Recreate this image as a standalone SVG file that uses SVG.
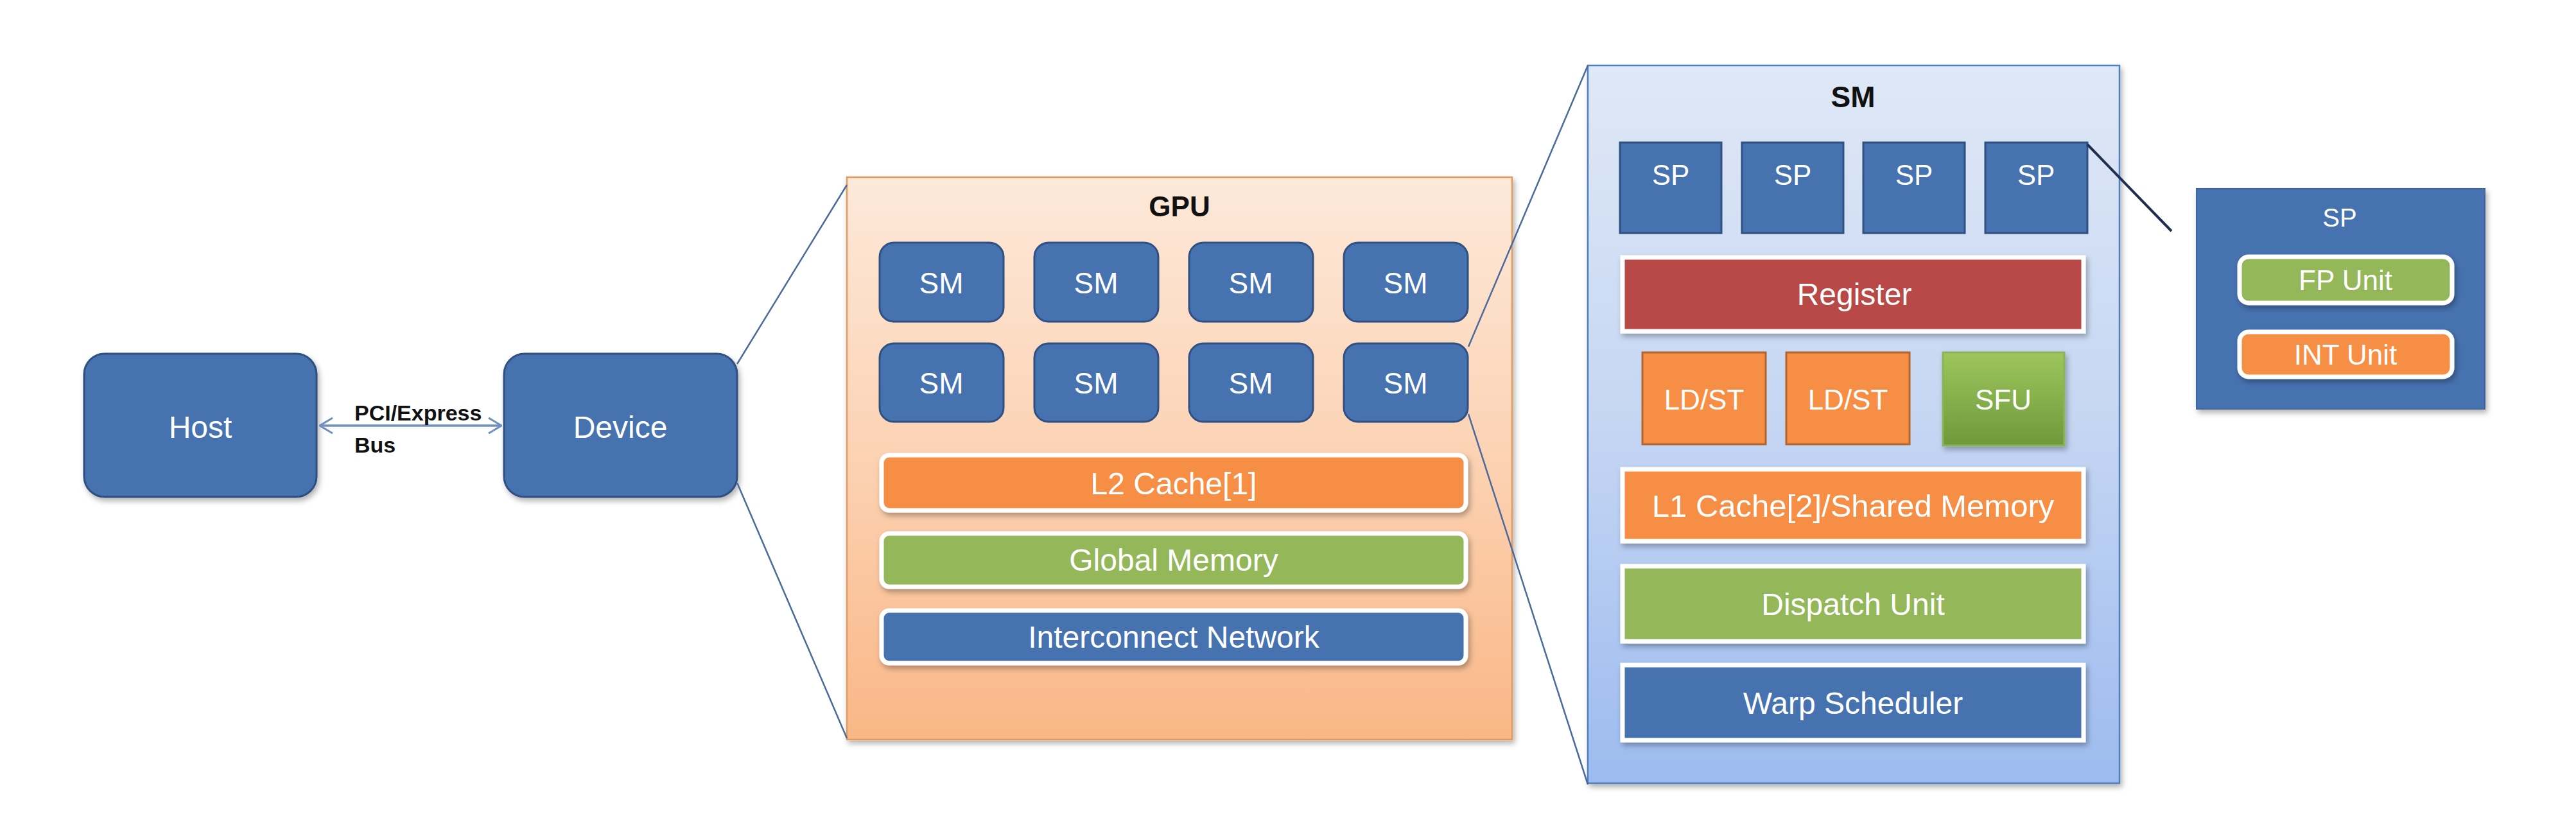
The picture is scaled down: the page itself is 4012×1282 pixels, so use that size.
<svg xmlns="http://www.w3.org/2000/svg" width="4012" height="1282" viewBox="0 0 4012 1282">
<defs>
  <linearGradient id="gpuGrad" x1="0" y1="0" x2="0" y2="1">
    <stop offset="0" stop-color="#fde9da"/>
    <stop offset="0.5" stop-color="#fcd2b3"/>
    <stop offset="1" stop-color="#f9b786"/>
  </linearGradient>
  <linearGradient id="smGrad" x1="0" y1="0" x2="0" y2="1">
    <stop offset="0" stop-color="#dfe8f6"/>
    <stop offset="0.5" stop-color="#c5d6f3"/>
    <stop offset="1" stop-color="#9dbbef"/>
  </linearGradient>
  <linearGradient id="sfuGrad" x1="0" y1="0" x2="0" y2="1">
    <stop offset="0" stop-color="#9dc65c"/>
    <stop offset="1" stop-color="#6e993b"/>
  </linearGradient>
  <filter id="shadow" x="-10%" y="-10%" width="130%" height="130%">
    <feDropShadow dx="3" dy="5" stdDeviation="4" flood-color="#000" flood-opacity="0.3"/>
  </filter>
  <marker id="chev" viewBox="0 0 22 26" refX="21" refY="13" markerWidth="22" markerHeight="26" markerUnits="userSpaceOnUse" orient="auto-start-reverse">
    <path d="M1,1 L21,13 L1,25" fill="none" stroke="#6f8fbf" stroke-width="3"/>
  </marker>
</defs>
<style>
  .blue { fill: #4672b0; stroke: #2f5080; stroke-width: 3; }
  .wt { font-family: "Liberation Sans", Arial, sans-serif; fill: #ffffff; text-anchor: middle; }
  .bt { font-family: "Liberation Sans", Arial, sans-serif; fill: #111111; text-anchor: middle; font-weight: bold; }
  .bar { stroke: #ffffff; stroke-width: 7; filter: url(#shadow); }
  .orange { fill: #f68f45; }
  .green { fill: #94b75a; }
  .red { fill: #b94946; }
  .navy { fill: #4672b0; }
  .zoomline { stroke: #4a6a9a; stroke-width: 2.5; fill: none; }
</style>

<rect x="0" y="0" width="4012" height="1282" fill="#ffffff"/>

<!-- Host -->
<g id="host">
  <rect class="blue" x="131" y="551" width="362" height="223" rx="32" filter="url(#shadow)"/>
  <text class="wt" x="312" y="682" font-size="48">Host</text>
</g>

<!-- Device -->
<g id="device">
  <rect class="blue" x="785" y="551" width="363" height="223" rx="32" filter="url(#shadow)"/>
  <text class="wt" x="966" y="682" font-size="48">Device</text>
</g>

<!-- GPU -->
<g id="gpu">
  <rect x="1319" y="276" width="1036" height="876" fill="url(#gpuGrad)" stroke="#e39a5f" stroke-width="2.5" filter="url(#shadow)"/>
  <text class="bt" x="1837" y="337" font-size="44">GPU</text>
</g>
<g id="gpu-sm-1"><rect class="blue" x="1370" y="378" width="193" height="123" rx="22"/><text class="wt" x="1466" y="457" font-size="46">SM</text></g>
<g id="gpu-sm-2"><rect class="blue" x="1611" y="378" width="193" height="123" rx="22"/><text class="wt" x="1707" y="457" font-size="46">SM</text></g>
<g id="gpu-sm-3"><rect class="blue" x="1852" y="378" width="193" height="123" rx="22"/><text class="wt" x="1948" y="457" font-size="46">SM</text></g>
<g id="gpu-sm-4"><rect class="blue" x="2093" y="378" width="193" height="123" rx="22"/><text class="wt" x="2189" y="457" font-size="46">SM</text></g>
<g id="gpu-sm-5"><rect class="blue" x="1370" y="535" width="193" height="122" rx="22"/><text class="wt" x="1466" y="613" font-size="46">SM</text></g>
<g id="gpu-sm-6"><rect class="blue" x="1611" y="535" width="193" height="122" rx="22"/><text class="wt" x="1707" y="613" font-size="46">SM</text></g>
<g id="gpu-sm-7"><rect class="blue" x="1852" y="535" width="193" height="122" rx="22"/><text class="wt" x="1948" y="613" font-size="46">SM</text></g>
<g id="gpu-sm-8"><rect class="blue" x="2093" y="535" width="193" height="122" rx="22"/><text class="wt" x="2189" y="613" font-size="46">SM</text></g>
<g id="l2-cache"><rect class="bar orange" x="1373" y="709" width="910" height="86" rx="12"/><text class="wt" x="1828" y="770" font-size="48">L2 Cache[1]</text></g>
<g id="global-memory"><rect class="bar green" x="1373" y="831" width="910" height="83" rx="12"/><text class="wt" x="1828" y="889" font-size="48" fill="#f4f8e6">Global Memory</text></g>
<g id="interconnect"><rect class="bar navy" x="1373" y="951" width="910" height="82" rx="12"/><text class="wt" x="1828" y="1009" font-size="48">Interconnect Network</text></g>

<!-- SM detail -->
<g id="sm">
  <rect x="2473" y="102" width="828" height="1118" fill="url(#smGrad)" stroke="#4f7fbf" stroke-width="2.5" filter="url(#shadow)"/>
  <text class="bt" x="2886" y="167" font-size="46">SM</text>
</g>
<g id="sp-1"><rect class="blue" x="2523" y="222" width="158" height="141"/><text class="wt" x="2602" y="288" font-size="44">SP</text></g>
<g id="sp-2"><rect class="blue" x="2713" y="222" width="158" height="141"/><text class="wt" x="2792" y="288" font-size="44">SP</text></g>
<g id="sp-3"><rect class="blue" x="2902" y="222" width="158" height="141"/><text class="wt" x="2981" y="288" font-size="44">SP</text></g>
<g id="sp-4"><rect class="blue" x="3092" y="222" width="159" height="141"/><text class="wt" x="3171" y="288" font-size="44">SP</text></g>
<g id="register"><rect class="bar red" x="2527" y="401" width="718" height="115"/><text class="wt" x="2888" y="475" font-size="48">Register</text></g>
<g id="ldst-1"><rect x="2558" y="549" width="192" height="143" fill="#f68f45" stroke="#b3652e" stroke-width="3"/><text class="wt" x="2654" y="638" font-size="44">LD/ST</text></g>
<g id="ldst-2"><rect x="2782" y="549" width="192" height="143" fill="#f68f45" stroke="#b3652e" stroke-width="3"/><text class="wt" x="2878" y="638" font-size="44">LD/ST</text></g>
<g id="sfu"><rect x="3026" y="549" width="189" height="145" fill="url(#sfuGrad)" stroke="#8ab45a" stroke-width="3" filter="url(#shadow)"/><text class="wt" x="3120" y="638" font-size="44" fill="#f4f8e6">SFU</text></g>
<g id="l1-cache"><rect class="bar orange" x="2527" y="731" width="718" height="112"/><text class="wt" x="2886" y="805" font-size="49">L1 Cache[2]/Shared Memory</text></g>
<g id="dispatch"><rect class="bar green" x="2527" y="882" width="718" height="117"/><text class="wt" x="2886" y="958" font-size="48" fill="#f4f8e6">Dispatch Unit</text></g>
<g id="warp"><rect class="bar navy" x="2527" y="1036" width="718" height="117"/><text class="wt" x="2886" y="1112" font-size="48">Warp Scheduler</text></g>

<!-- SP detail -->
<g id="sp-detail">
  <rect x="3421" y="294" width="449" height="343" fill="#4672b0" stroke="#3f66a0" stroke-width="2" filter="url(#shadow)"/>
  <text class="wt" x="3644" y="353" font-size="40">SP</text>
</g>
<g id="fp-unit"><rect class="bar green" x="3488" y="400" width="331" height="72" rx="14"/><text class="wt" x="3653" y="452" font-size="44" fill="#f4f8e6">FP Unit</text></g>
<g id="int-unit"><rect class="bar orange" x="3488" y="517" width="331" height="70" rx="14"/><text class="wt" x="3653" y="568" font-size="44">INT Unit</text></g>

<!-- connectors -->
<g id="connectors">
  <line x1="498" y1="663" x2="781" y2="663" stroke="#6f8fbf" stroke-width="3.5" marker-start="url(#chev)" marker-end="url(#chev)"/>
  <text class="bt" x="552" y="655" font-size="34" style="text-anchor:start">PCI/Express</text>
  <text class="bt" x="552" y="705" font-size="34" style="text-anchor:start">Bus</text>
  <line class="zoomline" x1="1148" y1="567" x2="1319" y2="288"/>
  <line class="zoomline" x1="1148" y1="752" x2="1319" y2="1150"/>
  <line class="zoomline" x1="2287" y1="540" x2="2473" y2="102"/>
  <line class="zoomline" x1="2287" y1="645" x2="2473" y2="1222"/>
  <line x1="3251" y1="225" x2="3382" y2="360" stroke="#1f2f4f" stroke-width="4"/>
</g>
</svg>
